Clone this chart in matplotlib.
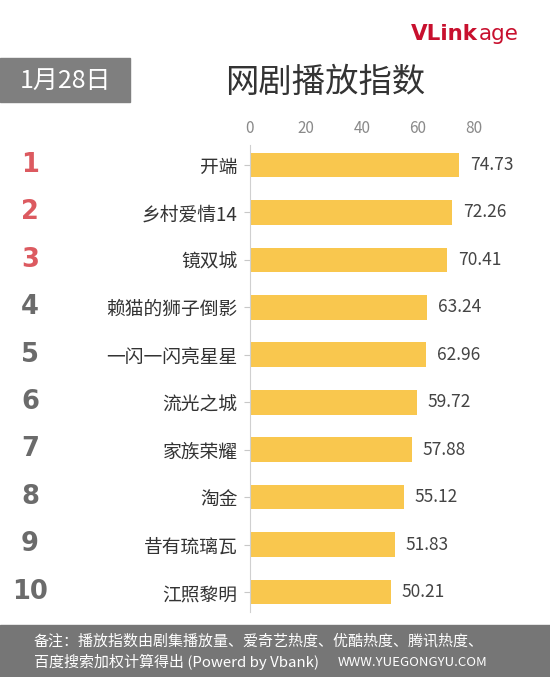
import matplotlib.pyplot as plt
from matplotlib.patches import Rectangle

plt.rcParams['font.family'] = ['Noto Sans CJK SC', 'DejaVu Sans']

# data
ranks = ['1', '2', '3', '4', '5', '6', '7', '8', '9', '10']
names = ['开端', '乡村爱情14', '镜双城', '赖猫的狮子倒影', '一闪一闪亮星星',
         '流光之城', '家族荣耀', '淘金', '昔有琉璃瓦', '江照黎明']
values = [74.73, 72.26, 70.41, 63.24, 62.96, 59.72, 57.88, 55.12, 51.83, 50.21]
x_ticks = [0, 20, 40, 60, 80]

bar_color = '#F9C74E'
red = '#DC5A60'
grey_rank = '#6B6B6B'

fig = plt.figure(figsize=(5.5, 6.77), dpi=100)

ax = fig.add_axes([250 / 550, 1 - 612 / 677, 224 / 550, 467 / 677])
ypos = list(range(len(names)))
ax.barh(ypos, values, height=0.52, color=bar_color)
ax.set_xlim(0, 80)
ax.set_ylim(9.42, -0.42)

ax.xaxis.tick_top()
ax.set_xticks(x_ticks)
ax.set_xticklabels([str(t) for t in x_ticks], color='#8a8a8a', fontsize=11)
ax.tick_params(axis='x', length=0, pad=6)
ax.set_yticks(ypos)
ax.set_yticklabels(names, color='#333333', fontsize=13.5)
ax.tick_params(axis='y', length=4, color='#c8c8c8', pad=5)
for s in ['top', 'right', 'bottom']:
    ax.spines[s].set_visible(False)
ax.spines['left'].set_color('#d0d0d0')

for y, v in zip(ypos, values):
    ax.text(v + 3.8, y, '%.2f' % v, va='center', ha='left', fontsize=12.5,
            color='#444444', clip_on=False)

# rank numbers
for y, r in zip(ypos, ranks):
    c = red if y < 3 else grey_rank
    fy = 1 - (165 + y * 47.4) / 677
    fig.text(30 / 550, fy, r, ha='center', va='center', fontsize=18.5,
             fontweight='bold', color=c, family=['DejaVu Sans'])

# date box and title
fig.patches.append(Rectangle((0, 1 - 102 / 677), 130 / 550, 44 / 677,
                             transform=fig.transFigure, color='#7f7f7f'))
fig.text(65 / 550, 1 - 81 / 677, '1月28日', ha='center', va='center',
         fontsize=18, color='white')
fig.text(325 / 550, 1 - 82 / 677, '网剧播放指数', ha='center', va='center',
         fontsize=24, color='#333333')

# logo
logo = fig.text(411 / 550, 1 - 34 / 677, 'VLink', ha='left', va='center',
                fontsize=15.5, fontweight='bold', color='#C8102E',
                family=['DejaVu Sans'])
plt.annotate('age', xy=(1, 0.5), xycoords=logo, xytext=(0.5, 0),
             textcoords='offset points', ha='left', va='center',
             fontsize=15.5, color='#C8102E', family=['DejaVu Sans'])

# footer
fig.patches.append(Rectangle((0, 0), 1, 52 / 677,
                             transform=fig.transFigure, color='#767676'))
fig.text(34 / 550, 1 - 641 / 677,
         '备注：播放指数由剧集播放量、爱奇艺热度、优酷热度、腾讯热度、',
         ha='left', va='center', fontsize=10.8, color='white')
fig.text(34 / 550, 1 - 662 / 677,
         '百度搜索加权计算得出 (Powerd by Vbank)',
         ha='left', va='center', fontsize=10.8, color='white')
fig.text(338 / 550, 1 - 662 / 677, 'WWW.YUEGONGYU.COM',
         ha='left', va='center', fontsize=9.5, color='white')

fig.savefig('out.png', dpi=100)
